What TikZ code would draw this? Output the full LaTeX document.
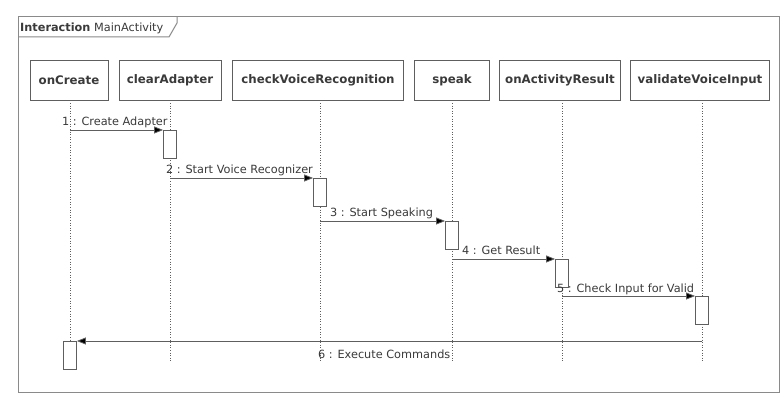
\documentclass[tikz,border=0pt]{standalone}
\usepackage{fontspec}
\setmainfont{DejaVu Sans}
\usetikzlibrary{arrows.meta}
\definecolor{framegray}{HTML}{8A8A8A}
\definecolor{linegray}{HTML}{5E5E5E}
\definecolor{textgray}{HTML}{3A3A3A}
\begin{document}
\begin{tikzpicture}[x=1pt,y=-1pt,
  lifebox/.style={draw=linegray, line width=0.9pt, fill=white, inner sep=0pt,
    minimum height=40pt, text=textgray,
    font=\bfseries\fontsize{11.8}{13}\selectfont},
  actbox/.style={draw=linegray, line width=0.8pt, fill=white, inner sep=0pt,
    minimum width=13pt, minimum height=28pt, anchor=north},
  lifeline/.style={draw=linegray, line width=0.8pt, dash pattern=on 1pt off 1.6pt},
  msg/.style={draw=linegray, line width=0.8pt,
    -{Triangle[length=9pt,width=7pt,fill=black]}},
  msglabel/.style={text=textgray, inner sep=0pt,
    font=\fontsize{11.3}{13}\selectfont},
  framelabel/.style={text=textgray, inner sep=0pt, anchor=west,
    font=\fontsize{11.3}{13}\selectfont}]

% canvas
\fill[white] (0,0) rectangle (782,395);
\useasboundingbox (0,0) rectangle (782,395);

% interaction frame with its name tab
\draw[framegray, line width=1pt] (18,17) rectangle (779,392);
\draw[framegray, line width=1pt] (18,37) -- (169,37) -- (177,23) -- (177,17);
\node[framelabel] (fname) at (20,28) {\textbf{Interaction} MainActivity};

% lifeline heads
\node[lifebox, minimum width=78pt]  (oc) at (69,80)    {onCreate};
\node[lifebox, minimum width=102pt] (ca) at (170,80)   {clearAdapter};
\node[lifebox, minimum width=171pt] (cv) at (318,80)   {checkVoiceRecognition};
\node[lifebox, minimum width=75pt]  (sp) at (452,80)   {speak};
\node[lifebox, minimum width=121pt] (ar) at (560,80)   {onActivityResult};
\node[lifebox, minimum width=139pt] (vv) at (700,80)   {validateVoiceInput};

% lifeline ends
\coordinate (ocEnd) at (70,362);
\coordinate (caEnd) at (170,362);
\coordinate (cvEnd) at (320,362);
\coordinate (spEnd) at (452,362);
\coordinate (arEnd) at (562,362);
\coordinate (vvEnd) at (702,362);

\draw[lifeline] (oc.south -| ocEnd) -- (ocEnd);
\draw[lifeline] (ca.south -| caEnd) -- (caEnd);
\draw[lifeline] (cv.south -| cvEnd) -- (cvEnd);
\draw[lifeline] (sp.south -| spEnd) -- (spEnd);
\draw[lifeline] (ar.south -| arEnd) -- (arEnd);
\draw[lifeline] (vv.south -| vvEnd) -- (vvEnd);

% activations
\node[actbox] (a1) at (170,130) {};
\node[actbox] (a2) at (320,178) {};
\node[actbox] (a3) at (452,221) {};
\node[actbox] (a4) at (562,259) {};
\node[actbox] (a5) at (702,296) {};
\node[actbox] (a6) at (70,341)  {};

% message sources on the lifelines
\coordinate (s1) at (70,130);
\coordinate (s2) at (170,178);
\coordinate (s3) at (320,221);
\coordinate (s4) at (452,259);
\coordinate (s5) at (562,296);
\coordinate (s6) at (702,341);

% messages
\draw[msg] (s1) -- (a1.north west);
\draw[msg] (s2) -- (a2.north west);
\draw[msg] (s3) -- (a3.north west);
\draw[msg] (s4) -- (a4.north west);
\draw[msg] (s5) -- (a5.north west);
\draw[msg] (s6) -- (a6.north east);

% message labels
\node[msglabel, anchor=base west] (l1) at (62,126)  {1 : Create Adapter};
\node[msglabel, anchor=base west] (l2) at (166,174) {2 : Start Voice Recognizer};
\node[msglabel, anchor=base west] (l3) at (330,217) {3 : Start Speaking};
\node[msglabel, anchor=base west] (l4) at (462,255) {4 : Get Result};
\node[msglabel, anchor=base west] (l5) at (557,293) {5 : Check Input for Valid};
\node[msglabel, anchor=base west] (l6) at (318,359) {6 : Execute Commands};
\end{tikzpicture}
\end{document}
